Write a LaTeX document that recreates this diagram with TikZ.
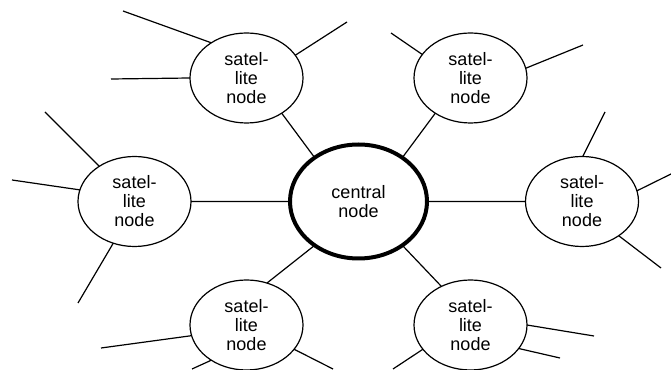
\documentclass[tikz,border=0pt]{standalone}
\usepackage{fontspec}
\setmainfont{Liberation Sans}
\usetikzlibrary{shapes.geometric}

\begin{document}
\begin{tikzpicture}[x=1pt,y=1pt,line width=1.2pt,
        sat/.style={ellipse,draw,minimum width=113pt,minimum height=90pt,inner sep=0pt,outer sep=0pt,
            align=center,font=\fontsize{18}{19}\selectfont},
        hub/.style={sat,line width=4pt,minimum width=137pt,minimum height=114pt}]
        \useasboundingbox (0,0) rectangle (671,369);
        \node[hub] (cen) at (358.5,167.5) {central\\node};
        \node[sat] (tl) at (246.5,291) {satel-\\lite\\node};
        \node[sat] (tr) at (470.5,291) {satel-\\lite\\node};
        \node[sat] (le) at (134.5,167.5) {satel-\\lite\\node};
        \node[sat] (ri) at (582,167.5) {satel-\\lite\\node};
        \node[sat] (bl) at (246.5,44) {satel-\\lite\\node};
        \node[sat] (br) at (470.5,44) {satel-\\lite\\node};
        % loose ends
        \foreach \n/\x/\y in {tla/123/358,tlb/111/290,tlc/347/347,tra/391/336,trb/583/324,
            lea/45/257,leb/12/189,lec/78/66,ria/605/257,rib/671/195,ric/661/101,
            bla/101/21,blb/192/0,blc/333/0,bra/594/33,brb/560/11,brc/393/0}
            \coordinate (\n) at (\x,\y);
        % spokes
        \draw (tl.-45) -- (cen.135) (tr.225) -- (cen.45) (le) -- (cen) (ri) -- (cen)
            (bl.64) -- (cen.225) (br.127) -- (cen.-45);
        \draw (tl.135) -- (tla) (tl.180) -- (tlb) (tl.25) -- (tlc);
        \draw (tr.154) -- (tra) (tr.10) -- (trb);
        \draw (le.135) -- (lea) (le.168) -- (leb) (le.-117) -- (lec);
        \draw (ri.89) -- (ria) (ri.11) -- (rib) (ri.-43) -- (ric);
        \draw (bl.191) -- (bla) (bl.225) -- (blb) (bl.-27) -- (blc);
        \draw (br.0) -- (bra) (br.-26) -- (brb) (br.207) -- (brc);
    \end{tikzpicture}
\end{document}
